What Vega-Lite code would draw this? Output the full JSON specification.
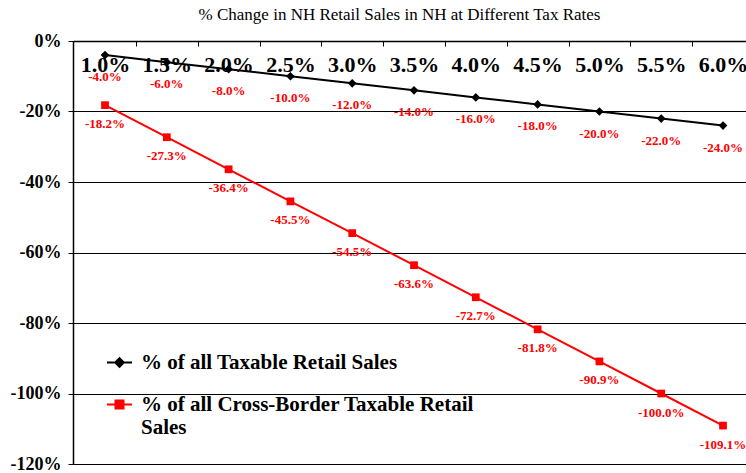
{
  "$schema": "https://vega.github.io/schema/vega-lite/v6.json",
  "autosize": "none",
  "width": 673,
  "height": 423,
  "padding": {"left": 73, "top": 41, "right": 0, "bottom": 9},
  "background": "white",
  "title": {
    "text": "% Change in NH Retail Sales in NH at Different Tax Rates",
    "font": "Liberation Serif",
    "fontSize": 17,
    "fontWeight": "normal",
    "color": "#000",
    "anchor": "middle",
    "baseline": "alphabetic",
    "offset": -5,
    "dx": -10
  },
  "config": {
    "view": {"stroke": null},
    "font": "Liberation Serif",
    "legend": {
      "orient": "none",
      "legendX": 33,
      "legendY": 308,
      "title": null,
      "padding": 0,
      "labelFont": "Liberation Serif",
      "labelFontSize": 21,
      "labelFontWeight": "bold",
      "labelColor": "#000",
      "labelLimit": 0,
      "labelOffset": 8,
      "rowPadding": 18,
      "symbolSize": 625,
      "symbolStrokeWidth": 2,
      "symbolOpacity": 1
    }
  },
  "data": {
    "values": [
      {"rate": "1.0%", "series": "% of all Taxable Retail Sales", "value": -4.0, "label": "-4.0%"},
      {"rate": "1.5%", "series": "% of all Taxable Retail Sales", "value": -6.0, "label": "-6.0%"},
      {"rate": "2.0%", "series": "% of all Taxable Retail Sales", "value": -8.0, "label": "-8.0%"},
      {"rate": "2.5%", "series": "% of all Taxable Retail Sales", "value": -10.0, "label": "-10.0%"},
      {"rate": "3.0%", "series": "% of all Taxable Retail Sales", "value": -12.0, "label": "-12.0%"},
      {"rate": "3.5%", "series": "% of all Taxable Retail Sales", "value": -14.0, "label": "-14.0%"},
      {"rate": "4.0%", "series": "% of all Taxable Retail Sales", "value": -16.0, "label": "-16.0%"},
      {"rate": "4.5%", "series": "% of all Taxable Retail Sales", "value": -18.0, "label": "-18.0%"},
      {"rate": "5.0%", "series": "% of all Taxable Retail Sales", "value": -20.0, "label": "-20.0%"},
      {"rate": "5.5%", "series": "% of all Taxable Retail Sales", "value": -22.0, "label": "-22.0%"},
      {"rate": "6.0%", "series": "% of all Taxable Retail Sales", "value": -24.0, "label": "-24.0%"},
      {"rate": "1.0%", "series": "% of all Cross-Border Taxable Retail Sales", "value": -18.2, "label": "-18.2%"},
      {"rate": "1.5%", "series": "% of all Cross-Border Taxable Retail Sales", "value": -27.3, "label": "-27.3%"},
      {"rate": "2.0%", "series": "% of all Cross-Border Taxable Retail Sales", "value": -36.4, "label": "-36.4%"},
      {"rate": "2.5%", "series": "% of all Cross-Border Taxable Retail Sales", "value": -45.5, "label": "-45.5%"},
      {"rate": "3.0%", "series": "% of all Cross-Border Taxable Retail Sales", "value": -54.5, "label": "-54.5%"},
      {"rate": "3.5%", "series": "% of all Cross-Border Taxable Retail Sales", "value": -63.6, "label": "-63.6%"},
      {"rate": "4.0%", "series": "% of all Cross-Border Taxable Retail Sales", "value": -72.7, "label": "-72.7%"},
      {"rate": "4.5%", "series": "% of all Cross-Border Taxable Retail Sales", "value": -81.8, "label": "-81.8%"},
      {"rate": "5.0%", "series": "% of all Cross-Border Taxable Retail Sales", "value": -90.9, "label": "-90.9%"},
      {"rate": "5.5%", "series": "% of all Cross-Border Taxable Retail Sales", "value": -100.0, "label": "-100.0%"},
      {"rate": "6.0%", "series": "% of all Cross-Border Taxable Retail Sales", "value": -109.1, "label": "-109.1%"}
    ]
  },
  "encoding": {
    "x": {
      "field": "rate",
      "type": "ordinal",
      "scale": {
        "type": "point",
        "domain": ["1.0%", "1.5%", "2.0%", "2.5%", "3.0%", "3.5%", "4.0%", "4.5%", "5.0%", "5.5%", "6.0%"],
        "padding": 0.445,
        "align": 0.582
      },
      "axis": {
        "orient": "top",
        "title": null,
        "grid": false,
        "domainColor": "#000",
        "domainWidth": 1.5,
        "tickColor": "#000",
        "tickSize": -5,
        "tickOffset": 30.9,
        "labelOffset": -30.9,
        "labelFont": "Liberation Serif",
        "labelFontSize": 22,
        "labelFontWeight": "bold",
        "labelColor": "#000",
        "labelAngle": 0,
        "labelBaseline": "alphabetic",
        "labelPadding": -25
      }
    },
    "y": {
      "field": "value",
      "type": "quantitative",
      "scale": {"domain": [-120, 0], "nice": false, "zero": false},
      "axis": {
        "title": null,
        "values": [-120, -100, -80, -60, -40, -20, 0],
        "labelExpr": "datum.value + '%'",
        "grid": true,
        "gridColor": "#000",
        "gridWidth": 1,
        "domainColor": "#000",
        "domainWidth": 1.5,
        "tickColor": "#000",
        "tickSize": 5,
        "labelPadding": 7,
        "labelFont": "Liberation Serif",
        "labelFontSize": 18,
        "labelFontWeight": "bold",
        "labelColor": "#000"
      }
    }
  },
  "layer": [
    {
      "mark": {"type": "line", "strokeWidth": 2},
      "encoding": {
        "color": {
          "field": "series",
          "type": "nominal",
          "scale": {
            "domain": ["% of all Taxable Retail Sales", "% of all Cross-Border Taxable Retail Sales"],
            "range": ["#000000", "#FF0000"]
          }
        }
      }
    },
    {
      "transform": [{"filter": "datum.series == '% of all Taxable Retail Sales'"}],
      "mark": {"type": "point", "filled": true, "opacity": 1, "size": 75, "shape": "diamond"},
      "encoding": {
        "color": {"field": "series", "type": "nominal"}
      }
    },
    {
      "transform": [{"filter": "datum.series != '% of all Taxable Retail Sales'"}],
      "mark": {"type": "point", "filled": true, "opacity": 1, "size": 60, "shape": "square"},
      "encoding": {
        "color": {"field": "series", "type": "nominal"}
      }
    },
    {
      "transform": [{"filter": "datum.series == '% of all Taxable Retail Sales'"}],
      "mark": {"type": "text", "font": "Liberation Serif", "fontSize": 13, "fontWeight": "bold", "color": "#FF0000", "baseline": "middle", "dy": 22},
      "encoding": {"text": {"field": "label"}}
    },
    {
      "transform": [{"filter": "datum.series != '% of all Taxable Retail Sales'"}],
      "mark": {"type": "text", "font": "Liberation Serif", "fontSize": 13, "fontWeight": "bold", "color": "#FF0000", "baseline": "middle", "dy": 19},
      "encoding": {"text": {"field": "label"}}
    },
    {
      "mark": {"type": "point", "filled": false, "opacity": 0},
      "encoding": {
        "color": {
          "field": "series",
          "type": "nominal",
          "legend": {
            "labelExpr": "datum.label == '% of all Cross-Border Taxable Retail Sales' ? ['% of all Cross-Border Taxable Retail', 'Sales'] : datum.label"
          }
        },
        "shape": {
          "field": "series",
          "type": "nominal",
          "scale": {
            "domain": ["% of all Taxable Retail Sales", "% of all Cross-Border Taxable Retail Sales"],
            "range": [
              "M-1,0L1,0M0,-0.34L0.34,0L0,0.34L-0.34,0ZM0,-0.17L0.17,0L0,0.17L-0.17,0Z",
              "M-1,0L1,0M-0.32,-0.32L0.32,-0.32L0.32,0.32L-0.32,0.32ZM-0.16,-0.16L0.16,-0.16L0.16,0.16L-0.16,0.16Z"
            ]
          },
          "legend": {
            "labelExpr": "datum.label == '% of all Cross-Border Taxable Retail Sales' ? ['% of all Cross-Border Taxable Retail', 'Sales'] : datum.label"
          }
        }
      }
    }
  ]
}
